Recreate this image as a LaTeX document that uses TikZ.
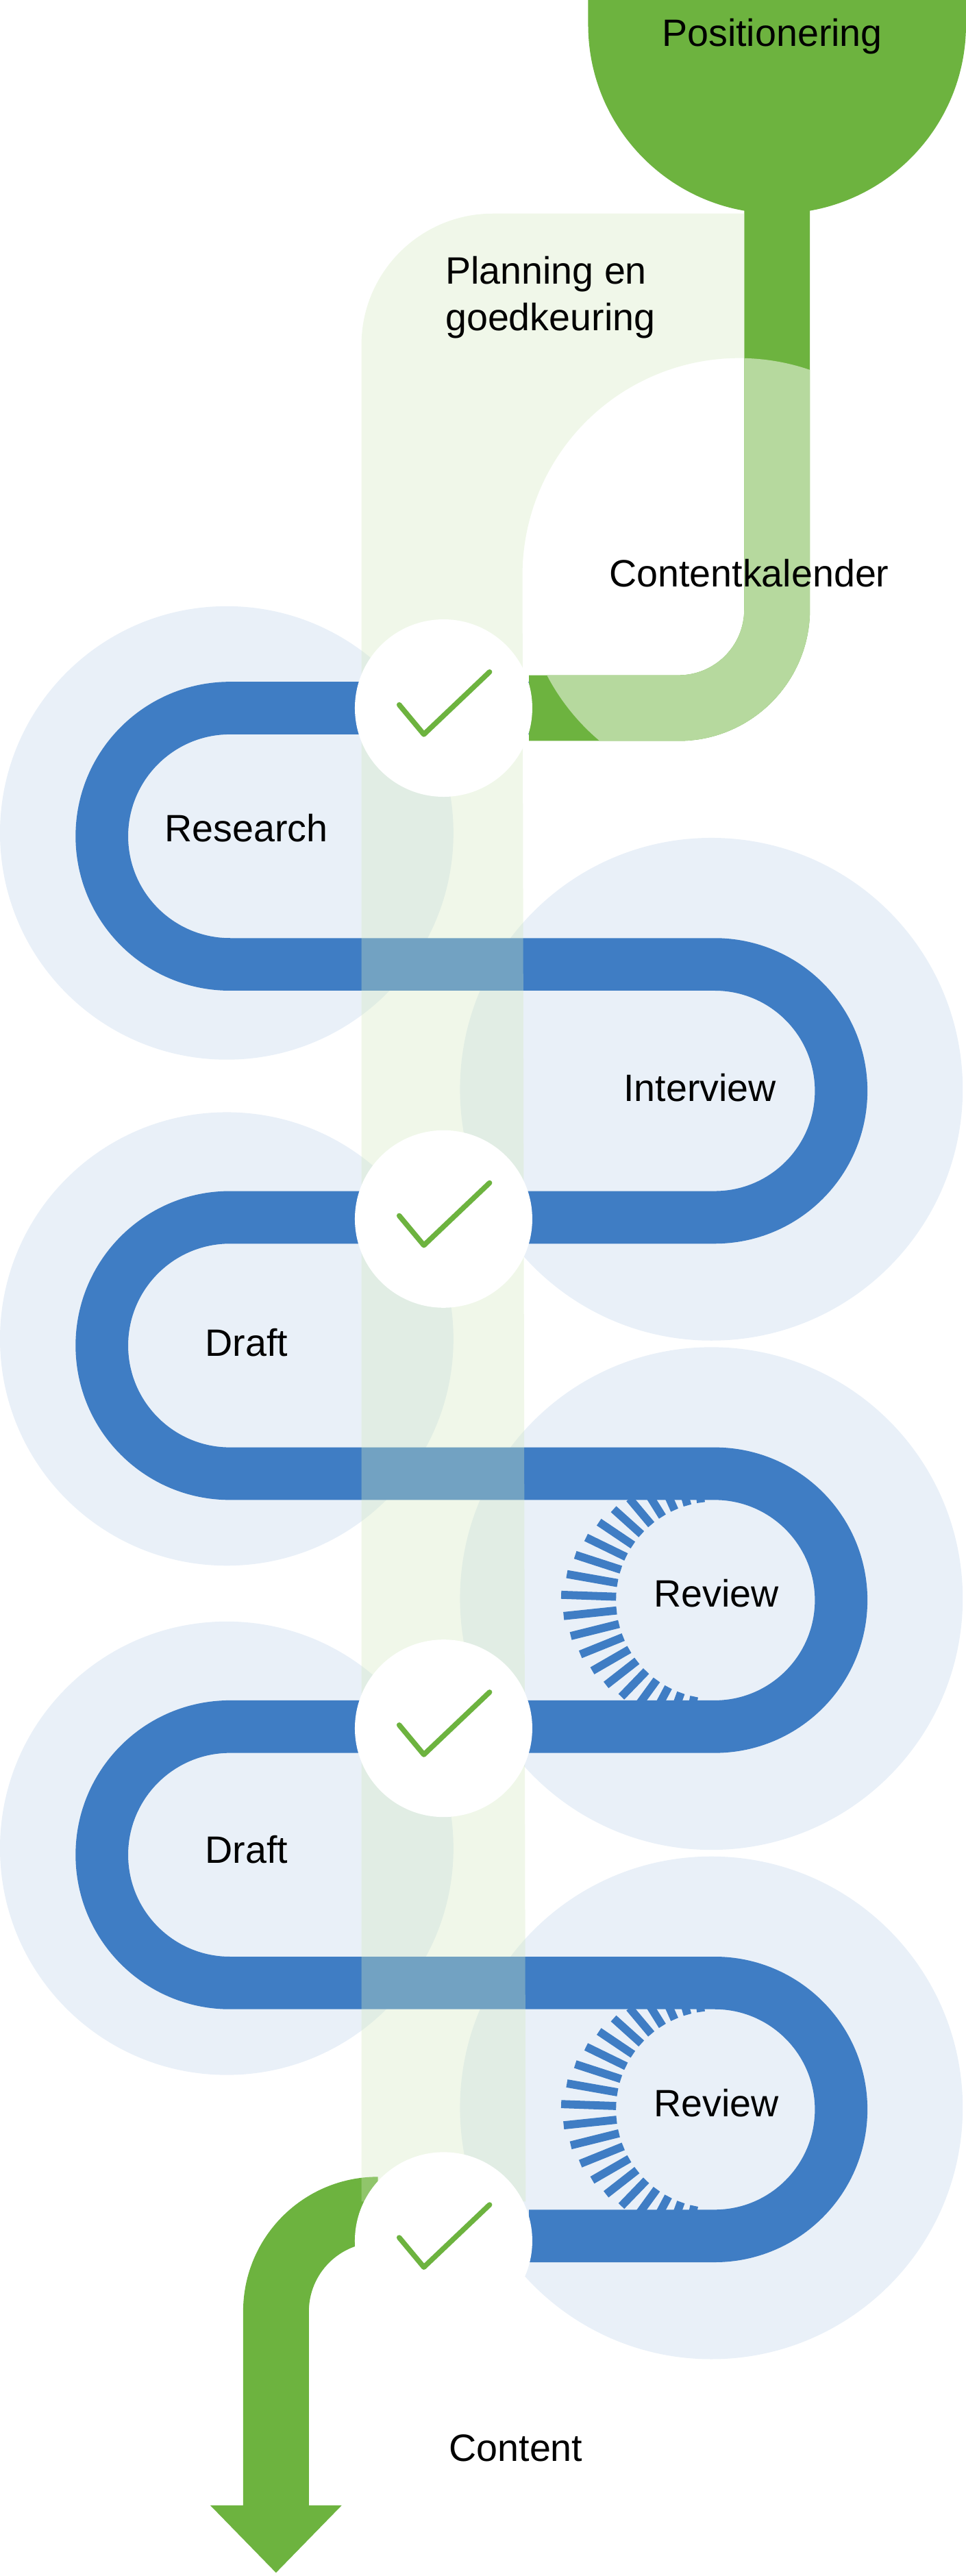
\documentclass[tikz,border=0pt]{standalone}
\usepackage{fontspec}
\setmainfont{Liberation Sans}
\definecolor{gr}{HTML}{6DB33F}
\definecolor{grl}{HTML}{B6D99E}
\definecolor{bl}{HTML}{3F7DC4}
\definecolor{lb}{HTML}{E9F0F8}
\definecolor{band}{HTML}{D3E9BF}
\begin{document}
\begin{tikzpicture}[x=0.05cm,y=0.05cm,
  lbl/.style={font=\fontsize{33}{40}\selectfont,inner sep=0},
  chk/.style={circle,fill=white,minimum size=5.4cm,inner sep=0},
  tk/.style={draw=gr,line width=4.5pt,line cap=round,line join=round}]
\useasboundingbox (0,0) rectangle (588,-1568);
% light blue circles
\foreach \y in {507,815,1125} \fill[lb] (138,-\y) circle (138);
\foreach \y in {663,973,1283} \fill[lb] (433,-\y) circle (153);
% green stem
\def\stem{(453,-100) -- (453,-371) arc[start angle=0,end angle=-90,radius=40] -- (322,-411) -- (322,-451) -- (413,-451) arc[start angle=-90,end angle=0,radius=80] -- (493,-100) -- cycle}
\fill[gr] (358,0) -- (588,0) -- (588,-15) arc[start angle=0,end angle=-180,radius=115] -- cycle;
\fill[gr] \stem;
\begin{scope}\clip (450,-350) circle (132); \fill[grl] \stem; \end{scope}
% blue track
\draw[bl,line width=1.6cm] (322,-431) -- (140,-431) arc[start angle=90,end angle=270,radius=78]
 -- (435,-587) arc[start angle=90,end angle=-90,radius=77]
 -- (140,-741) arc[start angle=90,end angle=270,radius=78]
 -- (435,-897) arc[start angle=90,end angle=-90,radius=77]
 -- (140,-1051) arc[start angle=90,end angle=270,radius=78]
 -- (435,-1207) arc[start angle=90,end angle=-90,radius=77]
 -- (322,-1361);
% review ticks
\foreach \cy in {974,1284}{
  \foreach \a in {98,106,...,262}
    \draw[bl,line width=7pt] (435,-\cy) ++(\a:60) -- ++(\a:{10+24*(1-abs(\a-180)/90)});
}
% green arrow
\fill[gr] (230,-1325) -- (230,-1365) arc[start angle=90,end angle=180,radius=42] -- (188,-1525) -- (208,-1525) -- (168,-1566) -- (128,-1525) -- (148,-1525) -- (148,-1407) arc[start angle=180,end angle=90,radius=82] -- cycle;
% planning band
\fill[band,opacity=0.35] (220,-1340) -- (220,-210) arc[start angle=180,end angle=90,radius=80] -- (453,-130) -- (453,-218) arc[start angle=88.7,end angle=180,radius=132] -- (320,-1340) -- cycle;
% check circles
\foreach \n/\y in {c1/431,c2/742,c3/1052,c4/1364}{
  \node[chk] (\n) at (270,-\y) {};
  \draw[tk] (\n.center) ++(-27,2) -- ++(15,-18) -- ++(40,38);
}
% labels
\node[lbl] (t1) at (470,-22) {Positionering};
\node[lbl,align=left,anchor=west] (t2) at (271,-181) {Planning en\\goedkeuring};
\node[lbl] (t3) at (456,-349) {Contentkalender};
\node[lbl] (t4) at (150,-504) {Research};
\node[lbl] (t5) at (426,-662) {Interview};
\node[lbl] (t6) at (150,-817) {Draft};
\node[lbl] (t7) at (436,-970) {Review};
\node[lbl] (t8) at (150,-1126) {Draft};
\node[lbl] (t9) at (436,-1280) {Review};
\node[lbl] (t10) at (314,-1490) {Content};
\end{tikzpicture}
\end{document}
